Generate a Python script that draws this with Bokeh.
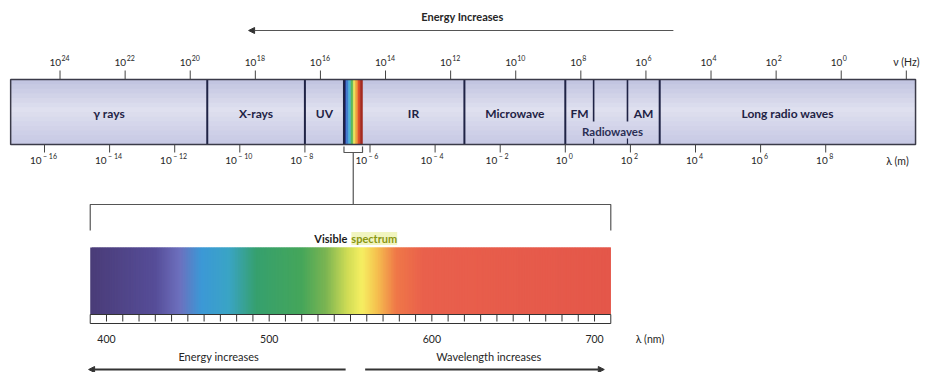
import numpy as np
from bokeh.plotting import figure
from bokeh.models import Range1d, Arrow, NormalHead
from bokeh.core.properties import value
from bokeh.embed import file_html
from bokeh.resources import INLINE

# ---- Spectrum regions, boundaries in log10(wavelength / m) ----
band_labels = ["γ rays", "X-rays", "UV", "", "IR", "Microwave", "", "Long radio waves"]
band_edges = [-17.04, -11.0, -8.0, -6.8, -6.23, -3.1, 0.0, 2.9, 10.76]
radio_sub_labels = ["FM", "AM"]
radio_sub_edges = [0.87, 1.91]          # upper edge of FM, lower edge of AM
radio_label = "Radiowaves"

# ---- Axis ticks ----
freq_exponents = [24, 22, 20, 18, 16, 14, 12, 10, 8, 6, 4, 2, 0]     # nu in Hz
wl_exponents = [-16, -14, -12, -10, -8, -6, -4, -2, 0, 2, 4, 6, 8]  # lambda in m
LOG_C = np.log10(2.998e8)

# ---- Visible spectrum (nm) ----
visible_nm = [390, 710]
visible_ticks = [400, 500, 600, 700]
ruler_step = 10

# colour ramp of the visible band, stops in nm
ramp_nm = [390, 430, 445, 458, 475, 492, 520, 535, 548, 557, 566, 578, 595, 710]
ramp_col = ["#4a3c78", "#564d98", "#6d70be", "#3c98d6", "#3aa4c6", "#36a06e",
            "#45a65a", "#7cb552", "#cfdc55", "#f6ef62", "#f5c24f", "#ef7848",
            "#e9604c", "#e4574a"]
# narrow rainbow strip inside the main bar
strip_col = ["#2d3a8c", "#3f7fd0", "#4fb6d6", "#5cb85c", "#e9e15a", "#f0a03c",
             "#e0502c", "#a52a1e"]

FONT = value("Lato")
INK = "#262626"
NAVY = "#1f2345"


def hex_rgb(h):
    return [int(h[i:i + 2], 16) for i in (1, 3, 5)]


def colour_ramp(xs, stop_x, stop_c):
    rgb = np.array([hex_rgb(c) for c in stop_c], dtype=float)
    out = []
    for x in xs:
        r, g, b = (int(round(np.interp(x, stop_x, rgb[:, k]))) for k in range(3))
        out.append(f"#{r:02x}{g:02x}{b:02x}")
    return out


p = figure(width=928, height=372, output_backend="svg", toolbar_location=None,
           tools="", x_range=Range1d(-17.352, 11.158), y_range=Range1d(372, 0),
           x_axis_location=None, y_axis_location=None, min_border=0)
p.outline_line_color = None
p.xgrid.visible = False
p.ygrid.visible = False
p.background_fill_color = "white"
p.border_fill_color = "white"
p.extra_x_ranges = {"nm": Range1d(334.84, 905.3)}

BAR_TOP, BAR_BOT = 79, 144

# ---- main bar: soft lavender shading (overlapping strips, no seams) ----
ys = np.linspace(BAR_TOP, BAR_BOT, 15)
mid = 0.5 * (ys[:-1] + ys[1:])
shade = colour_ramp(mid, [BAR_TOP, BAR_TOP + 30, BAR_BOT],
                    ["#c0c3e0", "#dfe0ef", "#c6c8e4"])
p.quad(left=band_edges[0], right=band_edges[-1], top=ys[:-1],
       bottom=np.minimum(ys[1:] + 1.5, BAR_BOT), fill_color=shade, line_color=None)

# rainbow strip for the visible region
vis_l, vis_r = band_edges[3], band_edges[4]
se = np.linspace(vis_l, vis_r, len(strip_col) + 1)
p.quad(left=se[:-1], right=se[1:], top=BAR_TOP, bottom=BAR_BOT,
       fill_color=strip_col, line_color=strip_col, line_width=0.5)

# region dividers
div_x = [band_edges[1], band_edges[2], band_edges[3], band_edges[5],
         band_edges[6], band_edges[7]]
p.segment(x0=div_x, x1=div_x, y0=BAR_TOP, y1=BAR_BOT, line_color=NAVY, line_width=2)
p.segment(x0=radio_sub_edges, x1=radio_sub_edges, y0=BAR_TOP, y1=121,
          line_color=NAVY, line_width=1.6)
p.segment(x0=radio_sub_edges, x1=radio_sub_edges, y0=138, y1=BAR_BOT,
          line_color=NAVY, line_width=1.2)
p.quad(left=band_edges[0], right=band_edges[-1], top=BAR_TOP, bottom=BAR_BOT,
       fill_color=None, line_color="#3a3a48", line_width=1.5)

# region labels
lab_x = [0.5 * (band_edges[i] + band_edges[i + 1]) for i in range(len(band_labels))
         if band_labels[i]]
lab_t = [t for t in band_labels if t]
fm_x = 0.5 * (band_edges[6] + radio_sub_edges[0])
am_x = 0.5 * (radio_sub_edges[1] + band_edges[7])
p.text(x=lab_x + [fm_x, am_x], y=113, text=lab_t + radio_sub_labels,
       text_font=FONT, text_font_style="bold", text_font_size="12px",
       text_color=NAVY, text_align="center", text_baseline="middle")
p.text(x=[0.5 * (band_edges[6] + band_edges[7])], y=[131], text=[radio_label],
       text_font=FONT, text_font_style="bold", text_font_size="11.5px",
       text_color="#2b2f55", text_align="center", text_baseline="middle")

# ---- frequency scale (above the bar) ----
fx = [LOG_C - e for e in freq_exponents] + [LOG_C + 2]
p.segment(x0=fx, x1=fx, y0=70, y1=BAR_TOP, line_color="#444444", line_width=1)
fxl = fx[:-1]
p.text(x=fxl, y=62, text=["10"] * len(fxl), x_offset=1, text_font=FONT,
       text_font_size="10px", text_color=INK, text_align="right",
       text_baseline="middle")
p.text(x=fxl, y=57, text=[str(e) for e in freq_exponents], x_offset=1.5,
       text_font=FONT, text_font_size="7px", text_color=INK, text_align="left",
       text_baseline="middle")
p.text(x=[fx[-1]], y=[61], text=["ν (Hz)"], text_font=FONT, text_font_size="10.5px",
       text_color=INK, text_align="center", text_baseline="middle")

# ---- wavelength scale (below the bar) ----
p.segment(x0=wl_exponents, x1=wl_exponents, y0=BAR_BOT, y1=152,
          line_color="#444444", line_width=1)
base_off = [-3 if e < 0 else 2 for e in wl_exponents]
exp_txt = [f"\u2212 {abs(e)}" if e < 0 else str(e) for e in wl_exponents]
p.text(x=wl_exponents, y=160, text=["10"] * len(wl_exponents), x_offset=base_off,
       text_font=FONT, text_font_size="10px", text_color=INK, text_align="right",
       text_baseline="middle")
p.text(x=wl_exponents, y=155, text=exp_txt, x_offset=[o + 1.5 for o in base_off],
       text_font=FONT, text_font_size="7px", text_color=INK, text_align="left",
       text_baseline="middle")
p.text(x=[10.2], y=[160], text=["λ (m)"], text_font=FONT, text_font_size="10.5px",
       text_color=INK, text_align="center", text_baseline="middle")

# bracket under the visible strip and its leader line
p.line(x=[vis_l, vis_l, vis_r, vis_r], y=[146, 152, 152, 146], line_color="#555555",
       line_width=1.2)
vis_mid = 0.5 * (vis_l + vis_r)
p.segment(x0=[vis_mid], x1=[vis_mid], y0=[152], y1=[204], line_color="#555555",
          line_width=1.2)

# ---- top energy arrow ----
p.add_layout(Arrow(x_start=3.32, y_start=30, x_end=-9.73, y_end=30,
                   line_color="#555555", line_width=1.2,
                   end=NormalHead(size=6, fill_color="#333333", line_color="#333333")))
p.text(x=[-3.16], y=[16], text=["Energy Increases"], text_font=FONT,
       text_font_style="bold", text_font_size="11px", text_color=INK,
       text_align="center", text_baseline="middle")

# ---- visible spectrum detail (nm scale) ----
v0, v1 = visible_nm
p.line(x=[v0, v0, v1, v1], y=[230, 204, 204, 230], line_color="#555555",
       line_width=1.2, x_range_name="nm")

nm = np.arange(v0, v1, 1.0)
cols = colour_ramp(nm + 0.5, ramp_nm, ramp_col)
p.quad(left=nm, right=np.minimum(nm + 2.0, v1), top=247, bottom=314,
       fill_color=cols, line_color=None, x_range_name="nm")

# ruler
p.quad(left=[v0], right=[v1], top=[314], bottom=[323], fill_color="white",
       line_color="#333333", line_width=1, x_range_name="nm")
rt = np.arange(visible_ticks[0], visible_ticks[-1] + 1, ruler_step)
p.segment(x0=rt, x1=rt, y0=314, y1=321, line_color="#333333", line_width=1,
          x_range_name="nm")
p.text(x=visible_ticks, y=338, text=[str(t) for t in visible_ticks], text_font=FONT,
       text_font_size="10.5px", text_color=INK, text_align="center",
       text_baseline="middle", x_range_name="nm")
p.text(x=[734], y=[338], text=["λ (nm)"], text_font=FONT, text_font_size="10.5px",
       text_color=INK, text_align="center", text_baseline="middle",
       x_range_name="nm")

p.text(x=[548], y=[238], text=["Visible"], text_font=FONT, text_font_style="bold",
       text_font_size="11px", text_color="#1a1a1a", text_align="right",
       text_baseline="middle", x_range_name="nm")
p.text(x=[550.5], y=[238], text=["spectrum"], text_font=FONT,
       text_font_style="bold", text_font_size="11px", text_color="#8a9612",
       text_align="left", text_baseline="middle", x_range_name="nm",
       background_fill_color="#eef2b0", background_fill_alpha=0.8)

# energy / wavelength arrows
p.text(x=[469, 635], y=[356, 356], text=["Energy increases", "Wavelength increases"],
       text_font=FONT, text_font_size="11px", text_color=INK, text_align="center",
       text_baseline="middle", x_range_name="nm")
p.add_layout(Arrow(x_start=547, y_start=369, x_end=389, y_end=369,
                   x_range_name="nm", line_color="#333333", line_width=2,
                   end=NormalHead(size=6, fill_color="#333333", line_color="#333333")))
p.add_layout(Arrow(x_start=559, y_start=369, x_end=706, y_end=369,
                   x_range_name="nm", line_color="#333333", line_width=2,
                   end=NormalHead(size=6, fill_color="#333333", line_color="#333333")))

open("out.html", "w").write(file_html(p, INLINE))
